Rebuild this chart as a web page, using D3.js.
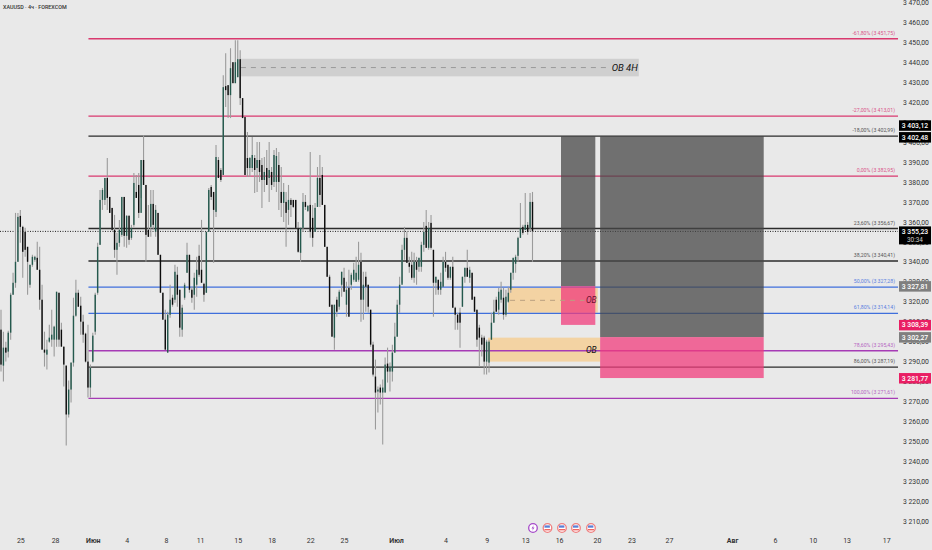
<!DOCTYPE html>
<html lang="ru">
<head>
    <meta charset="UTF-8">
    <title>XAUUSD 4ч</title>
    <script src="https://cdnjs.cloudflare.com/ajax/libs/d3/7.0.0/d3.min.js"></script>
    <style>
        html, body { margin: 0; padding: 0; background: #e9e9e9; overflow: hidden; }
        svg { display: block; font-family: Roboto, "Open Sans", sans-serif; }
    </style>
</head>
<body>
    <div id="chart"></div>

    <script>
        const symbolTitle = "XAUUSD · 4ч · FOREXCOM";

        // candles
        const opens = [3306,3288,3297,3295,3304.5,3323.5,3329.5,3340,3363,3357.5,
            3355,3347.5,3328.5,3338.5,3341,3342,3336,3321,3296,3293.5,
            3300,3301,3301,3301,3324.5,3306,3297.5,3288,3263.5,3276,
            3289.5,3313,3324.5,3318,3310,3304,3290,3277,3290,3305,
            3324.5,3348.5,3371,3371,3382,3372.5,3367,3356,3346,3349.5,
            3353.5,3372.5,3353,3363,3352,3358.5,3375,3378.5,3364.5,3391,
            3378.5,3356,3357.5,3369,3355,3364.5,3343.5,3324.5,3311,3294.5,
            3313.5,3322,3321,3333.5,3326,3306,3322,3334.5,3343.5,3326,
            3323.5,3328.5,3343,3336,3329,3324.5,3355,3377.5,3375,3365,
            3391,3386,3383.5,3428,3428.5,3423.5,3440,3429.5,3432.5,3441.5,
            3422,3412.5,3392,3387,3387,3392,3387,3391,3388.5,3381,
            3387,3382,3385,3380,3380,3388.5,3375,3369.5,3370,3366,
            3371,3371,3371,3357,3344.5,3357,3370,3365.5,3368.5,3362,
            3355,3367.5,3382,3383.5,3368.5,3347.5,3332.5,3318.5,3302,3321,
            3317.5,3328.5,3332,3318.5,3327,3328.5,3331,3330,3331,3340,
            3321,3332.5,3328.5,3316,3298.5,3282.5,3275,3277,3274.5,3274.5,
            3289,3285,3285,3294.5,3302.5,3318.5,3328.5,3346,3352,3339.5,
            3338.5,3332,3340,3337.5,3337.5,3348.5,3358,3347,3359.5,3346,
            3329.5,3331,3326,3327.5,3340,3338.5,3332,3337.5,3317,3313.5,
            3314.5,3317.5,3332.5,3337,3332,3334.5,3322.5,3316,3307,3302,
            3302,3290,3289.5,3301,3309.5,3321,3316,3321,3322,3313.5,
            3320,3326,3334.5,3339,3343,3352,3357.5,3356,3358.5,3357,3370];
        const highs = [3316,3305,3300,3305.5,3324.5,3334.5,3364.5,3364.5,3366,3358,
            3357,3347.5,3338.5,3343.5,3343,3350,3347.5,3328.5,3305,3301,
            3308.5,3316,3308,3325,3324.5,3309.5,3297.5,3288,3280.5,3289.5,
            3322,3331,3326,3322.5,3313.5,3304.5,3308.5,3288.5,3304.5,3324.5,
            3349.5,3376,3377,3382,3392,3372.5,3367,3363.5,3354.5,3361,
            3372.5,3372.5,3363.5,3363.5,3358.5,3384.5,3383.5,3384.5,3391,3403.5,
            3378.5,3368.5,3376,3376,3368.5,3364.5,3343.5,3324.5,3316,3315,
            3328.5,3323.5,3338.5,3337.5,3326,3318.5,3329.5,3349.5,3343.5,3327.5,
            3334.5,3342.5,3348.5,3361,3329.5,3355,3377,3378.5,3375,3398.5,
            3392.5,3387,3433.5,3444.5,3428.5,3447,3440,3451,3451,3446,
            3422,3412.5,3405,3392.5,3402.5,3393.5,3400,3400,3392,3392.5,
            3396,3400,3387.5,3396,3397,3395,3387.5,3379.5,3375,3378.5,
            3372,3371,3371,3360,3357,3374.5,3373.5,3368.5,3395,3368.5,
            3369.5,3387.5,3393.5,3387.5,3368.5,3347.5,3333.5,3318.5,3318.5,3322.5,
            3326,3335,3337,3330,3336,3334.5,3339.5,3342.5,3350,3344.5,
            3335,3335,3328.5,3316,3300,3291,3277.5,3278.5,3281,3292,
            3297,3289.5,3298.5,3309.5,3321,3332.5,3348.5,3357.5,3355,3342.5,
            3345,3344.5,3342.5,3342,3350,3360,3366,3360,3363.5,3346,
            3332.5,3331,3334.5,3342.5,3345,3338.5,3337.5,3342.5,3317.5,3314.5,
            3317,3332.5,3337,3346,3337.5,3334.5,3322.5,3316,3308.5,3303.5,
            3303,3301,3301,3314.5,3321,3322.5,3327,3330,3327,3326,
            3327.5,3334.5,3342,3343.5,3352.5,3369.5,3358.5,3374.5,3360,3374.5,3375];
        const lows = [3285,3280,3290,3292,3301,3323.5,3327,3340,3349.5,3332,
            3342.5,3323.5,3327,3337.5,3340,3336,3316,3296,3287.5,3286,
            3299.5,3297.5,3292.5,3297.5,3297.5,3297.5,3277.5,3248,3262,3269.5,
            3287.5,3312.5,3317.5,3303.5,3299.5,3289.5,3272,3272,3289.5,3303.5,
            3323.5,3348.5,3366,3368.5,3366,3364.5,3355.5,3342,3333.5,3347.5,
            3352.5,3347.5,3347,3348.5,3351,3357.5,3372,3362,3372,3378.5,
            3340,3352.5,3352.5,3356,3352.5,3343.5,3324.5,3311,3296,3294.5,
            3312,3317.5,3319.5,3317.5,3302.5,3302.5,3321,3334.5,3324.5,3319.5,
            3316,3322.5,3332.5,3329.5,3320,3324.5,3355,3371,3339.5,3362.5,
            3382,3380,3383.5,3417.5,3412,3412,3429.5,3429.5,3432.5,3418.5,
            3412,3383.5,3382.5,3382.5,3385,3374.5,3375,3380,3367,3375,
            3378.5,3370,3376,3377.5,3375,3366,3362.5,3360,3347.5,3358.5,
            3362.5,3367,3357,3344.5,3340,3355,3366,3365,3352,3347.5,
            3355,3367.5,3367.5,3368.5,3347.5,3332.5,3317.5,3302.5,3296,3312.5,
            3316,3322.5,3325,3312.5,3312.5,3326,3330,3330,3330,3310,
            3311,3315,3314.5,3297.5,3282.5,3256,3264.5,3268.5,3248.5,3274.5,
            3279.5,3275,3280,3294.5,3302.5,3314.5,3329.5,3341,3339.5,3334.5,
            3331,3329.5,3328.5,3335,3335,3345,3347,3346,3346,3312.5,
            3323.5,3323.5,3323.5,3327.5,3335,3331,3331,3317,3306,3306,
            3297,3317.5,3329.5,3332.5,3329.5,3321,3315,3297.5,3287.5,3292.5,
            3283.5,3283.5,3284.5,3301,3309.5,3315,3313.5,3319.5,3311,3312.5,
            3319.5,3324.5,3331,3334.5,3340,3352,3353.5,3356,3353.5,3355,3340];
        const closes = [3288.5,3297,3294.5,3304.5,3323.5,3329.5,3340,3362.5,3357.5,3345,
            3346,3340,3338.5,3342.5,3342.5,3336,3321,3296,3294.5,3296,
            3302,3303.5,3307.5,3325,3301,3297.5,3288.5,3263.5,3276,3289.5,
            3313,3324.5,3317.5,3310,3303.5,3290,3277,3287,3303,3323.5,
            3347.5,3371,3376,3382,3372,3364.5,3356,3346,3349.5,3356,
            3372.5,3353,3363,3351,3357,3379.5,3372,3364.5,3391,3378.5,
            3353.5,3352.5,3369,3358.5,3366,3343.5,3324.5,3311,3296,3313.5,
            3321,3318.5,3335,3323.5,3307,3317,3328.5,3343.5,3326,3322,
            3332,3336,3333.5,3329.5,3323.5,3355,3376,3372.5,3366,3392.5,
            3382,3381,3427.5,3426,3423.5,3437,3429.5,3440,3441.5,3422,
            3412,3383.5,3387,3392,3393.5,3386,3391,3385,3381,3385,
            3378.5,3386,3378.5,3393.5,3393,3380,3369.5,3375,3364.5,3371,
            3368.5,3367.5,3357,3345,3357,3370,3367.5,3368,3355,3352,
            3367,3382,3373.5,3368.5,3347.5,3332.5,3317.5,3302.5,3318.5,3315,
            3325,3335,3325,3326,3312.5,3333.5,3336,3334.5,3338.5,3321,
            3328.5,3327.5,3317.5,3298.5,3283.5,3274.5,3276,3274.5,3277,3288.5,
            3285,3287.5,3294.5,3302.5,3318.5,3328.5,3346,3352,3339.5,3337.5,
            3332,3340,3336,3342,3348.5,3355,3347,3357,3347,3329.5,
            3332.5,3326,3330,3340,3337,3332,3337.5,3317,3313.5,3309.5,
            3309.5,3332.5,3337,3332.5,3336,3321,3315,3301,3302,3298.5,
            3290,3300,3300,3309.5,3315,3315,3325,3326,3313.5,3322.5,
            3324.5,3334.5,3342,3342.5,3352,3357,3354.5,3358.5,3355,3370,3355.23];

        // fibonacci levels
        const fibRatios = ["-61,80%", "-27,00%", "-18,00%", "0,00%", "23,60%", "38,20%", "50,00%", "61,80%", "78,60%", "86,00%", "100,00%"];
        const fibPrices = [3451.75, 3413.01, 3402.99, 3382.95, 3356.67, 3340.41, 3327.28, 3314.14, 3295.43, 3287.19, 3271.61];
        const fibKinds = ["pink", "pink", "black", "pink", "black", "black", "blue", "blue", "purple", "black", "purple"];
        const fibBars = [36.2, 371.3];

        // axis
        const priceTicks = d3.range(3210, 3471, 10);
        const dateTickBars = [8, 22.4, 38, 52, 68.3, 82.4, 98, 112, 128, 142, 163.5, 184, 201, 217, 231, 246.7, 261, 276.5, 302.6, 320.4, 336, 350, 366.4];
        const dateTickLabels = ["25", "28", "Июн", "4", "8", "11", "15", "18", "22", "25", "Июл", "4", "9", "13", "16", "20", "23", "27", "Авг", "6", "10", "13", "17"];
        const monthLabels = ["Июн", "Июл", "Авг"];

        // zones: bar from, bar to, price top, price bottom
        const stopBoxes = [[231.8, 246, 3402.99, 3327.81], [248, 315.7, 3402.99, 3302.27]];
        const riskBoxes = [[231.8, 246, 3327.81, 3308.39], [248, 315.7, 3302.27, 3281.77]];
        const orangeBoxes = [[209.9, 247, 3327, 3314.5], [201.6, 248, 3302, 3290]];
        const grayBox = [99.3, 264, 3441.7, 3432.9];

        // price tags
        const tagPrices = [3403.12, 3402.48, 3355.23, 3327.81, 3308.39, 3302.27, 3281.77];
        const tagKinds = ["black", "black", "black", "gray", "pink", "gray", "pink"];
        const countdown = "30:34";

        const eventBars = [220.2, 226.2, 232.2, 238, 244.2];
        const eventKinds = ["spark", "flag", "flag", "flag", "flag"];

        const width = 932, height = 550;
        const fibColor = { pink: "#d9396f", black: "#2b2b2b", blue: "#3f6fdc", purple: "#a63bb5" };
        const fibText = { pink: "#d9568a", black: "#555", blue: "#5a7fe0", purple: "#b565c2" };
        const tagColor = { black: "#000", gray: "#7f7f7f", pink: "#e91e63" };

        const x = d3.scaleLinear().domain([0, 220]).range([1, 532.5]);
        const y = d3.scaleLinear().domain([3470, 3210]).range([2.3, 521.3]);
        const priceFormat = d3.formatLocale({ decimal: ",", thousands: " ", grouping: [3], currency: ["", ""] }).format(",.2f");

        const svg = d3.select("#chart").append("svg")
            .attr("width", width)
            .attr("height", height)
            .style("background", "#e9e9e9");

        svg.append("text")
            .attr("x", 3).attr("y", 9)
            .attr("font-size", 5.4)
            .attr("font-weight", 500)
            .attr("fill", "#333")
            .text(symbolTitle);

        // zones under the candles
        svg.append("rect")
            .attr("x", x(grayBox[0])).attr("width", x(grayBox[1]) - x(grayBox[0]))
            .attr("y", y(grayBox[2])).attr("height", y(grayBox[3]) - y(grayBox[2]))
            .attr("fill", "#cfcfcf");
        svg.append("line")
            .attr("x1", x(grayBox[0])).attr("x2", x(252))
            .attr("y1", y(3437.3)).attr("y2", y(3437.3))
            .attr("stroke", "#999").attr("stroke-dasharray", "5,5");
        svg.append("text")
            .attr("x", x(264) - 1).attr("y", y(3437.3) + 3.5)
            .attr("text-anchor", "end")
            .attr("font-size", 9.5).attr("font-style", "italic").attr("fill", "#111")
            .text("OB 4H");

        svg.selectAll(".orange").data(orangeBoxes).enter().append("rect")
            .attr("class", "orange")
            .attr("x", d => x(d[0])).attr("width", d => x(d[1]) - x(d[0]))
            .attr("y", d => y(d[2])).attr("height", d => y(d[3]) - y(d[2]))
            .attr("fill", "#f3d3a3");

        // fib lines and labels
        const fib = svg.selectAll(".fib").data(fibPrices).enter().append("g").attr("class", "fib");
        fib.append("line")
            .attr("x1", x(fibBars[0])).attr("x2", x(fibBars[1]))
            .attr("y1", d => y(d)).attr("y2", d => y(d))
            .attr("stroke", (d, i) => fibColor[fibKinds[i]])
            .attr("stroke-width", 1.3);
        fib.append("text")
            .attr("x", x(fibBars[1]) - 3)
            .attr("y", d => y(d) - 4)
            .attr("text-anchor", "end")
            .attr("font-size", 5.2)
            .attr("fill", (d, i) => fibText[fibKinds[i]])
            .text((d, i) => `${fibRatios[i]} (${priceFormat(d)})`);

        // current price
        svg.append("line")
            .attr("x1", 0).attr("x2", x(fibBars[1]))
            .attr("y1", y(closes[closes.length - 1])).attr("y2", y(closes[closes.length - 1]))
            .attr("stroke", "#222").attr("stroke-width", 1).attr("stroke-dasharray", "1,1.5");

        // candles
        const candle = svg.selectAll(".candle").data(closes).enter().append("g").attr("class", "candle");
        candle.append("line")
            .attr("x1", (d, i) => x(i)).attr("x2", (d, i) => x(i))
            .attr("y1", (d, i) => y(highs[i])).attr("y2", (d, i) => y(lows[i]))
            .attr("stroke", "#9b9b9b").attr("stroke-width", 1.1);
        candle.append("rect")
            .attr("x", (d, i) => x(i) - 0.7).attr("width", 1.4)
            .attr("y", (d, i) => y(Math.max(opens[i], d)))
            .attr("height", (d, i) => Math.max(0.8, Math.abs(y(opens[i]) - y(d))))
            .attr("fill", (d, i) => d >= opens[i] ? "#24594d" : "#0c0c0c");

        // position boxes
        svg.selectAll(".stop").data(stopBoxes).enter().append("rect")
            .attr("class", "stop")
            .attr("x", d => x(d[0])).attr("width", d => x(d[1]) - x(d[0]))
            .attr("y", d => y(d[2])).attr("height", d => y(d[3]) - y(d[2]))
            .attr("fill", "#474747").attr("opacity", 0.75);
        svg.selectAll(".risk").data(riskBoxes).enter().append("rect")
            .attr("class", "risk")
            .attr("x", d => x(d[0])).attr("width", d => x(d[1]) - x(d[0]))
            .attr("y", d => y(d[2])).attr("height", d => y(d[3]) - y(d[2]))
            .attr("fill", "#f03c7c").attr("opacity", 0.75);

        // OB marks
        svg.append("line")
            .attr("x1", x(210.7)).attr("x2", x(241.5))
            .attr("y1", y(3320.7)).attr("y2", y(3320.7))
            .attr("stroke", "#b9a080").attr("stroke-dasharray", "5,5");
        svg.append("text")
            .attr("x", x(246.6)).attr("y", y(3320.7) + 3)
            .attr("text-anchor", "end")
            .attr("font-size", 8.5).attr("font-style", "italic").attr("fill", "#6b1030")
            .text("OB");
        svg.append("text")
            .attr("x", x(246.6)).attr("y", y(3296) + 3)
            .attr("text-anchor", "end")
            .attr("font-size", 8.5).attr("font-style", "italic").attr("fill", "#111")
            .text("OB");

        // price axis
        const priceAxis = d3.axisRight(y).tickValues(priceTicks).tickFormat(priceFormat).tickSize(0).tickPadding(0);
        const priceG = svg.append("g")
            .attr("transform", "translate(903,0)")
            .call(priceAxis);
        priceG.select(".domain").remove();
        priceG.selectAll("text").attr("font-size", 6.8).attr("fill", "#333").attr("font-family", "Roboto, sans-serif");

        // date axis
        const dateAxis = d3.axisBottom(x).tickValues(dateTickBars).tickFormat((d, i) => dateTickLabels[i]).tickSize(0).tickPadding(0);
        const dateG = svg.append("g")
            .attr("transform", "translate(0,538.5)")
            .call(dateAxis);
        dateG.select(".domain").remove();
        dateG.selectAll("text")
            .attr("font-size", 7).attr("fill", "#333").attr("font-family", "Roboto, sans-serif")
            .attr("font-weight", (d, i) => monthLabels.includes(dateTickLabels[i]) ? 700 : 400);

        // price tags, the 3 403,12 one is pushed up by the one under it
        const tagShift = d => d === 3403.12 ? -10.5 : 0;
        const tags = svg.selectAll(".tag").data(tagPrices).enter().append("g").attr("class", "tag");
        tags.append("rect")
            .attr("x", 899).attr("width", 32)
            .attr("y", d => y(d) + tagShift(d) - 5)
            .attr("height", d => d === closes[closes.length - 1] ? 18 : 10.5)
            .attr("fill", (d, i) => tagColor[tagKinds[i]]);
        tags.append("text")
            .attr("x", 915).attr("y", d => y(d) + tagShift(d) + 2.5)
            .attr("text-anchor", "middle")
            .attr("font-size", 6.8).attr("font-weight", 500).attr("fill", "#fff")
            .text(d => priceFormat(d));
        svg.append("text")
            .attr("x", 915).attr("y", y(closes[closes.length - 1]) + 11)
            .attr("text-anchor", "middle")
            .attr("font-size", 6.4).attr("fill", "#ccc")
            .text(countdown);

        // event icons
        const events = svg.selectAll(".event").data(eventBars).enter().append("g")
            .attr("class", "event")
            .attr("transform", d => `translate(${x(d)},528)`);
        events.append("circle")
            .attr("r", 4.3)
            .attr("fill", "#fff")
            .attr("stroke", (d, i) => eventKinds[i] === "spark" ? "#a64ac9" : "#ef7f7f")
            .attr("stroke-width", 1.3);
        events.filter((d, i) => eventKinds[i] === "flag").append("path")
            .attr("d", "M-3,-2.6H2.4V-0.3H-3Z")
            .attr("fill", "#5b7fd6");
        events.filter((d, i) => eventKinds[i] === "flag").append("path")
            .attr("d", "M-3,1H3V2.4H-3Z")
            .attr("fill", "#e66");
        events.filter((d, i) => eventKinds[i] === "spark").append("path")
            .attr("d", "M0.8,-3L-1.5,0.5H0L-0.8,3L1.5,-0.5H0Z")
            .attr("fill", "#a64ac9");
    </script>
</body>
</html>
